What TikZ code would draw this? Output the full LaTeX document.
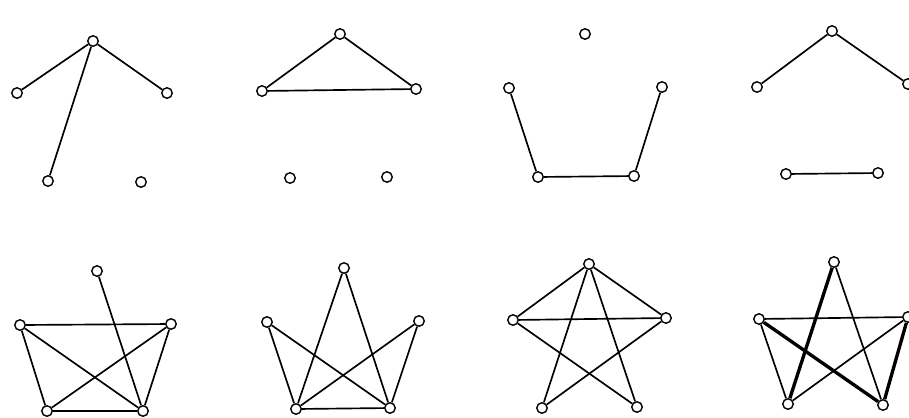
\documentclass[tikz,border=0pt]{standalone}
\usepackage{tikz}
\usetikzlibrary{positioning}

\begin{document}
\begin{tikzpicture}[
    x=0.02cm, y=-0.02cm,
    vertex/.style={circle, draw, fill=white, inner sep=0pt, minimum size=0.21cm, line width=0.8pt},
    edge/.style={line width=0.95pt},
    heavy/.style={line width=1.9pt}
]
\useasboundingbox (0,0) rectangle (909,417);

% Graph 1 (top row)
\node[vertex] (g1t) at (93,41) {};
\node[vertex] (g1l) at (17,93) {};
\node[vertex] (g1r) at (167,93) {};
\node[vertex] (g1bl) at (48,181) {};
\node[vertex] (g1br) at (141,182) {};

% Graph 2
\node[vertex] (g2t) at (340,34) {};
\node[vertex] (g2l) at (262,91) {};
\node[vertex] (g2r) at (416,89) {};
\node[vertex] (g2bl) at (290,178) {};
\node[vertex] (g2br) at (387,177) {};

% Graph 3
\node[vertex] (g3t) at (585,34) {};
\node[vertex] (g3l) at (509,88) {};
\node[vertex] (g3r) at (662,87) {};
\node[vertex] (g3bl) at (538,177) {};
\node[vertex] (g3br) at (634,176) {};

% Graph 4
\node[vertex] (g4t) at (832,31) {};
\node[vertex] (g4l) at (757,87) {};
\node[vertex] (g4r) at (908,84) {};
\node[vertex] (g4bl) at (786,174) {};
\node[vertex] (g4br) at (878,173) {};

% Complements (bottom row)
\node[vertex] (h1t) at (97,271) {};
\node[vertex] (h1l) at (20,325) {};
\node[vertex] (h1r) at (171,324) {};
\node[vertex] (h1bl) at (47,411) {};
\node[vertex] (h1br) at (143,411) {};

\node[vertex] (h2t) at (344,268) {};
\node[vertex] (h2l) at (267,322) {};
\node[vertex] (h2r) at (419,321) {};
\node[vertex] (h2bl) at (296,409) {};
\node[vertex] (h2br) at (390,408) {};

\node[vertex] (h3t) at (589,264) {};
\node[vertex] (h3l) at (513,320) {};
\node[vertex] (h3r) at (666,318) {};
\node[vertex] (h3bl) at (542,408) {};
\node[vertex] (h3br) at (637,407) {};

\node[vertex] (h4t) at (834,262) {};
\node[vertex] (h4l) at (759,319) {};
\node[vertex] (h4r) at (908,317) {};
\node[vertex] (h4bl) at (788,404) {};
\node[vertex] (h4br) at (883,405) {};

% Edges top row
\draw[edge] (g1t) -- (g1l);
\draw[edge] (g1t) -- (g1r);
\draw[edge] (g1t) -- (g1bl);

\draw[edge] (g2t) -- (g2l);
\draw[edge] (g2t) -- (g2r);
\draw[edge] (g2l) -- (g2r);

\draw[edge] (g3l) -- (g3bl);
\draw[edge] (g3bl) -- (g3br);
\draw[edge] (g3br) -- (g3r);

\draw[edge] (g4t) -- (g4l);
\draw[edge] (g4t) -- (g4r);
\draw[edge] (g4bl) -- (g4br);

% Edges bottom row
\draw[edge] (h1t) -- (h1br);
\draw[edge] (h1l) -- (h1r);
\draw[edge] (h1l) -- (h1bl);
\draw[edge] (h1l) -- (h1br);
\draw[edge] (h1r) -- (h1bl);
\draw[edge] (h1r) -- (h1br);
\draw[edge] (h1bl) -- (h1br);

\draw[edge] (h2t) -- (h2bl);
\draw[edge] (h2t) -- (h2br);
\draw[edge] (h2l) -- (h2bl);
\draw[edge] (h2l) -- (h2br);
\draw[edge] (h2r) -- (h2bl);
\draw[edge] (h2r) -- (h2br);
\draw[edge] (h2bl) -- (h2br);

\draw[edge] (h3t) -- (h3l);
\draw[edge] (h3t) -- (h3r);
\draw[edge] (h3t) -- (h3bl);
\draw[edge] (h3t) -- (h3br);
\draw[edge] (h3l) -- (h3r);
\draw[edge] (h3l) -- (h3br);
\draw[edge] (h3r) -- (h3bl);

\draw[heavy] (h4t) -- (h4bl);
\draw[edge] (h4t) -- (h4br);
\draw[edge] (h4l) -- (h4r);
\draw[edge] (h4l) -- (h4bl);
\draw[heavy] (h4l) -- (h4br);
\draw[edge] (h4r) -- (h4bl);
\draw[heavy] (h4r) -- (h4br);

\end{tikzpicture}
\end{document}
